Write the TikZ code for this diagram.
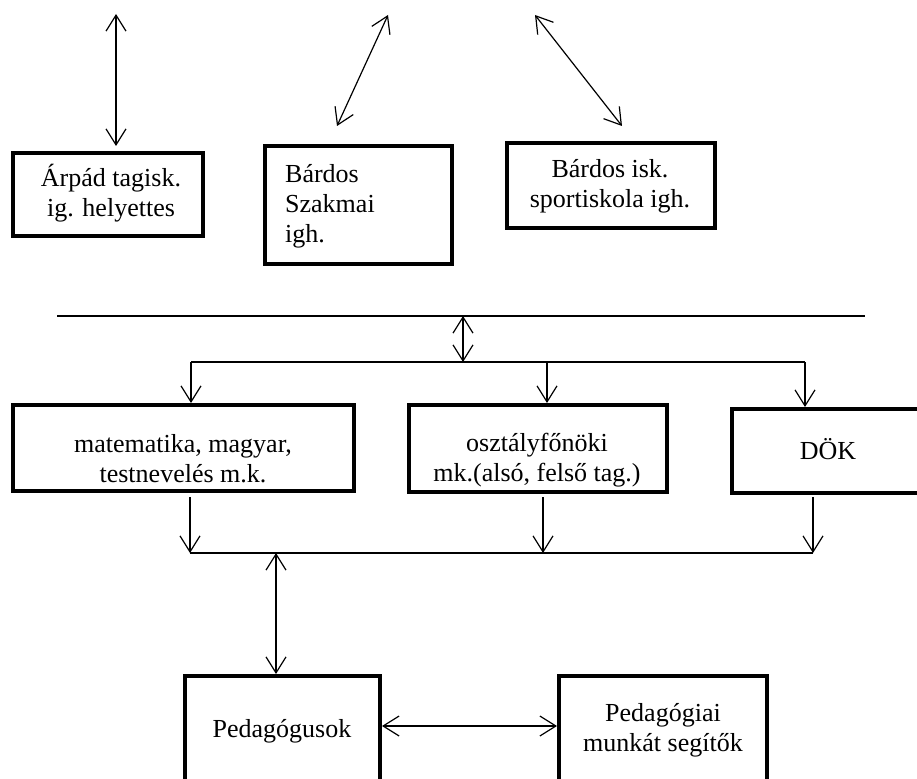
\documentclass[tikz,border=0pt]{standalone}
\usepackage{fontspec}
\setmainfont{Liberation Serif}
\usetikzlibrary{arrows.meta}
\begin{document}
\begin{tikzpicture}[x=1pt,y=-1pt,
  box/.style={draw, line width=4pt, rectangle, inner sep=0pt},
  txt/.style={font=\fontsize{26}{30}\selectfont, align=center, inner sep=0pt},
  conn/.style={line width=1.2pt},
  bus/.style={line width=2pt},
  >={Straight Barb[length=16pt,width=20pt]}]
\useasboundingbox (0,0) rectangle (917,778);

% boxes
\node[box, minimum width=190pt, minimum height=83pt] (arpad) at (108,194.5) {};
\node[txt] (arpadT) at (111,193) {Árpád tagisk.\\ig. helyettes};

\node[box, minimum width=187pt, minimum height=118pt] (szakmai) at (358.5,205) {};
\node[txt, align=left, anchor=west] (szakmaiT) at (285,206.4) {Bárdos\\Szakmai\\igh.};

\node[box, minimum width=208pt, minimum height=85pt] (sport) at (611,185.5) {};
\node[txt] (sportT) at (610,186.4) {Bárdos isk.\\sportiskola igh.};

\node[box, minimum width=341pt, minimum height=86pt] (mat) at (183.5,448) {};
\node[txt] (matT) at (183,458.5) {matematika, magyar,\\testnevelés m.k.};

\node[box, minimum width=258pt, minimum height=87pt] (oszt) at (538,448.5) {};
\node[txt] (osztT) at (537,460) {osztályfőnöki\\mk.(alsó, felső tag.)};

\node[box, minimum width=193pt, minimum height=84pt] (dok) at (828.5,451) {};
\node[txt] (dokT) at (828,449.5) {DÖK};

\node[box, minimum width=195pt, minimum height=110pt] (ped) at (282.5,731) {};
\node[txt] (pedT) at (282,731) {Pedagógusok};

\node[box, minimum width=208pt, minimum height=110pt] (seg) at (663,731) {};
\node[txt] (segT) at (663,730) {Pedagógiai\\munkát segítők};

% top arrows
\coordinate (a1) at (116,14);
\draw[conn, <->, shorten >=5pt] (a1) -- (a1 |- arpad.north);
\coordinate (b1) at (337,126);
\coordinate (b2) at (388,15);
\draw[conn, <->] (b1) -- (b2);
\coordinate (c1) at (535,15);
\coordinate (c2) at (622,126);
\draw[conn, <->] (c1) -- (c2);

% horizontal separator
\coordinate (hl) at (57,316);
\coordinate (hr) at (865,316);
\draw[line width=1.4pt] (hl) -- (hr);

% top bus
\coordinate (busT) at (463,362);
\draw[conn, <->] (busT |- hl) -- (busT);
\coordinate (bl) at (191,362);
\coordinate (bm) at (547,362);
\coordinate (br) at (805,362);
\draw[bus] (bl) -- (br);
\draw[conn, ->] (bl) -- (bl |- mat.north);
\draw[conn, ->] (bm) -- (bm |- oszt.north);
\draw[conn, ->] (br) -- (br |- dok.north);

% bottom bus
\coordinate (lb) at (190,553);
\coordinate (lm) at (543,553);
\coordinate (lr) at (813,553);
\draw[conn, ->, shorten <=4pt] (lb |- mat.south) -- (lb);
\draw[conn, ->, shorten <=3pt] (lm |- oszt.south) -- (lm);
\draw[conn, ->, shorten <=2pt] (lr |- dok.south) -- (lr);
\draw[conn] (lb) -- (lr);

\coordinate (lp) at (276,553);
\draw[conn, <->] (lp) -- (lp |- ped.north);

\coordinate (hh) at (470,726);
\draw[conn, <->] (ped.east |- hh) -- (seg.west |- hh);
\end{tikzpicture}
\end{document}
